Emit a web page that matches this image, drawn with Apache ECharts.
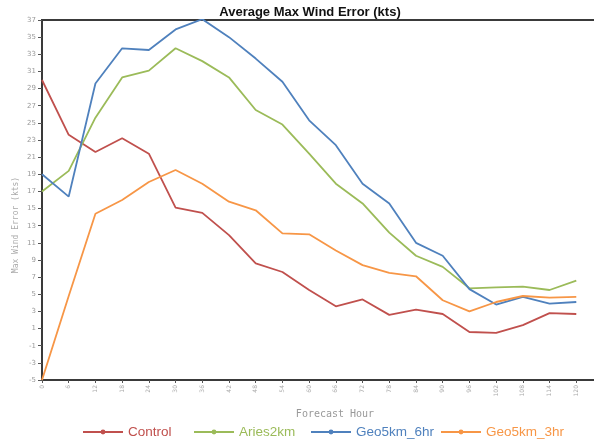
<!DOCTYPE html>
<html>
<head>
<meta charset="utf-8">
<script src="https://cdn.jsdelivr.net/npm/echarts@6/dist/echarts.min.js"></script>
<style>
  html, body { margin: 0; padding: 0; background: #fff; }
  #chart { width: 594px; height: 442px; }
</style>
</head>
<body>
<div id="chart"></div>
<script>
// Forecast lead times (hours)
const hours = [0, 6, 12, 18, 24, 30, 36, 42, 48, 54, 60, 66, 72, 78, 84, 90, 96, 102, 108, 114, 120];

// Average max wind error (kts) per experiment
const control   = [30.0, 23.6, 21.6, 23.2, 21.4, 15.1, 14.5, 11.9, 8.6, 7.6, 5.5, 3.6, 4.4, 2.6, 3.2, 2.7, 0.6, 0.5, 1.4, 2.8, 2.7];
const aries2km  = [17.0, 19.4, 25.6, 30.3, 31.1, 33.7, 32.2, 30.3, 26.5, 24.8, 21.4, 17.9, 15.6, 12.2, 9.5, 8.2, 5.7, 5.8, 5.9, 5.5, 6.6];
const geo6hr    = [19.0, 16.4, 29.6, 33.7, 33.5, 35.9, 37.1, 35.0, 32.5, 29.8, 25.3, 22.4, 17.9, 15.6, 11.0, 9.5, 5.6, 3.8, 4.7, 3.9, 4.1];
const geo3hr    = [-5.0, 4.8, 14.4, 16.0, 18.1, 19.5, 17.9, 15.8, 14.8, 12.1, 12.0, 10.1, 8.4, 7.5, 7.1, 4.3, 3.0, 4.1, 4.8, 4.6, 4.7];

const seriesNames  = ['Control', 'Aries2km', 'Geo5km_6hr', 'Geo5km_3hr'];
const seriesValues = [control, aries2km, geo6hr, geo3hr];
const seriesColors = ['#c0504d', '#9bbb59', '#4f81bd', '#f79646'];
// left edge of each legend entry
const legendLefts  = [82, 193, 310, 440];

const pair = vals => vals.map((v, i) => [hours[i], v]);

const chart = echarts.init(document.getElementById('chart'), null, { renderer: 'canvas' });

chart.setOption({
  animation: false,
  backgroundColor: '#ffffff',
  title: {
    text: 'Average Max Wind Error (kts)',
    left: 305,
    top: 1,
    textAlign: 'center',
    textStyle: { fontFamily: 'Liberation Sans', fontSize: 13, fontWeight: 'bold', color: '#111' }
  },
  grid: {
    left: 42, top: 20, width: 561, height: 360,
    outerBoundsMode: 'none',
    containLabel: false,
    show: true, borderColor: '#3a3a3a', borderWidth: 2, backgroundColor: 'transparent'
  },
  legend: seriesNames.map((n, i) => ({
    left: legendLefts[i], top: 425, padding: 0,
    itemWidth: 40, itemHeight: 6,
    textStyle: { fontFamily: 'Liberation Sans', fontSize: 13.5, color: seriesColors[i] },
    data: [n]
  })),
  xAxis: {
    type: 'value',
    min: 0, max: 126, interval: 6,
    name: 'Forecast Hour',
    nameLocation: 'middle',
    nameGap: 29,
    nameTextStyle: { fontFamily: 'DejaVu Sans Mono', fontSize: 10, color: '#999', padding: [0, 0, 0, 25] },
    axisLine: { show: true, onZero: false, lineStyle: { color: '#3a3a3a', width: 2 } },
    axisTick: { show: true, length: 3, lineStyle: { color: '#555' } },
    splitLine: { show: false },
    axisLabel: {
      rotate: 90, fontSize: 6, color: '#aaa', margin: 5,
      fontFamily: 'DejaVu Sans'
    }
  },
  yAxis: {
    type: 'value',
    min: -5, max: 37, interval: 2,
    axisLine: { show: true, onZero: false, lineStyle: { color: '#3a3a3a', width: 2 } },
    axisTick: { show: true, length: 4, lineStyle: { color: '#555' } },
    splitLine: { show: false },
    axisLabel: { fontSize: 7, color: '#999', margin: 6, fontFamily: 'DejaVu Sans' }
  },
  graphic: [{
    type: 'text',
    x: 16, y: 225,
    rotation: Math.PI / 2,
    style: {
      text: 'Max Wind Error (kts)',
      fontFamily: 'DejaVu Sans Mono', fontSize: 8, fill: '#aaa',
      align: 'center', verticalAlign: 'middle'
    }
  }],
  series: seriesNames.map((n, i) => ({
    name: n,
    type: 'line',
    data: pair(seriesValues[i]),
    color: seriesColors[i],
    symbol: 'circle',
    symbolSize: 5,
    showSymbol: false,
    lineStyle: { width: 1.8 }
  }))
});
</script>
</body>
</html>
